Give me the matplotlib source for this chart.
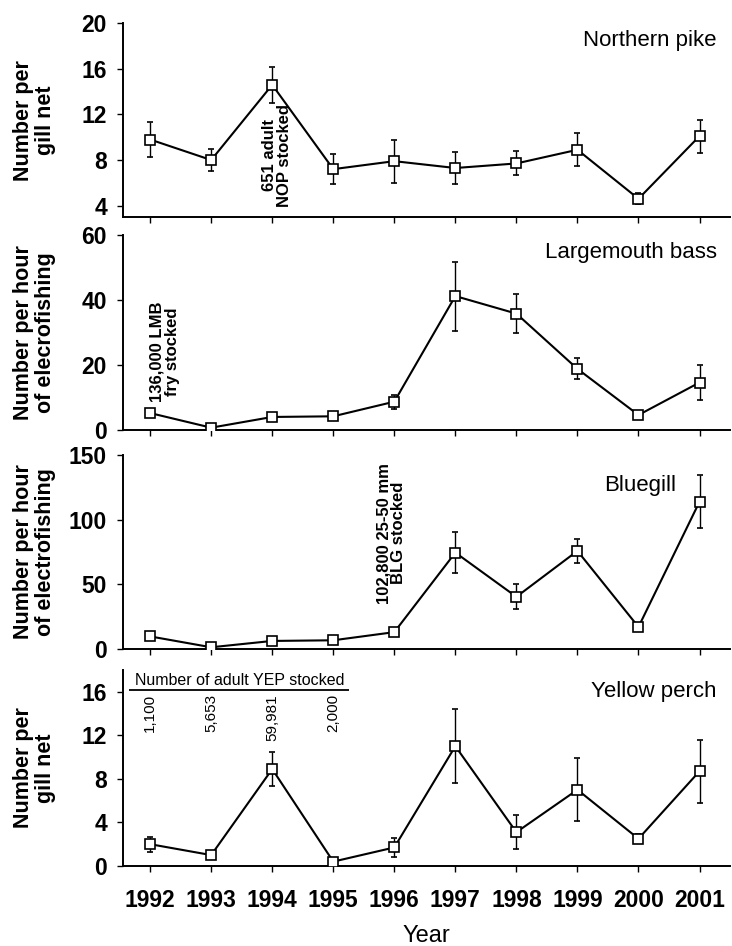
import matplotlib
matplotlib.use('AGG')
import matplotlib.pyplot as plt

plt.rcParams['font.family'] = ['Liberation Sans', 'DejaVu Sans']

years = [1992, 1993, 1994, 1995, 1996, 1997, 1998, 1999, 2000, 2001]

# catch rates and error bars
nop = [9.8, 8.0, 14.6, 7.2, 7.9, 7.3, 7.7, 8.9, 4.6, 10.1]
nop_err = [1.5, 0.95, 1.6, 1.3, 1.9, 1.4, 1.05, 1.45, 0.5, 1.45]

lmb = [5.2, 0.7, 4.0, 4.2, 8.7, 41.2, 35.8, 18.8, 4.6, 14.6]
lmb_err = [0.6, 0.5, 1.0, 0.8, 2.2, 10.6, 6.1, 3.2, 0.6, 5.5]

blg = [9.7, 1.3, 6.2, 6.7, 13.0, 74.5, 40.3, 75.8, 17.0, 113.8]
blg_err = [2.0, 1.0, 2.0, 2.0, 2.5, 15.7, 9.7, 9.0, 2.0, 20.6]

yep = [2.0, 1.0, 8.9, 0.4, 1.7, 11.0, 3.1, 7.0, 2.5, 8.7]
yep_err = [0.7, 0.2, 1.6, 0.15, 0.9, 3.4, 1.55, 2.9, 0.4, 2.9]

yep_stocked_years = [1992, 1993, 1994, 1995]
yep_stocked = ['1,100', '5,653', '59,981', '2,000']

fig = plt.figure(figsize=(7.32, 9.46), dpi=100)

left, width = 0.1676, 0.8297
panels = [
    # bottom, height, data, err, ylim, yticks, ylabel, title, title y, title x
    (0.7706, 0.2048, nop, nop_err, (3, 20), [4, 8, 12, 16, 20],
     'Number per\ngill net', 'Northern pike', 0.91, 0.978),
    (0.5455, 0.2061, lmb, lmb_err, (0, 60), [0, 20, 40, 60],
     'Number per hour\nof elecrofishing', 'Largemouth bass', 0.91, 0.978),
    (0.3140, 0.2051, blg, blg_err, (0, 150), [0, 50, 100, 150],
     'Number per hour\nof electrofishing', 'Bluegill', 0.845, 0.911),
    (0.0846, 0.2072, yep, yep_err, (0, 18), [0, 4, 8, 12, 16],
     'Number per\ngill net', 'Yellow perch', 0.888, 0.978),
]

axes = []
for bottom, height, vals, errs, ylim, yticks, ylabel, title, ty, tx in panels:
    ax = fig.add_axes([left, bottom, width, height])
    ax.errorbar(years, vals, yerr=errs, color='black', lw=1.5,
                elinewidth=1.0, capsize=2.5, capthick=1.0,
                marker='s', markersize=7.5, markerfacecolor='white',
                markeredgecolor='black', markeredgewidth=1.2, zorder=3)
    ax.set_xlim(1991.55, 2001.5)
    ax.set_ylim(*ylim)
    ax.set_yticks(yticks)
    ax.set_xticks(years)
    ax.spines['top'].set_visible(False)
    ax.spines['right'].set_visible(False)
    ax.spines['left'].set_linewidth(1.4)
    ax.spines['bottom'].set_linewidth(1.4)
    ax.tick_params(direction='out', length=4.3, width=1.0)
    ax.tick_params(axis='y', labelsize=16.5, pad=7)
    for lab in ax.get_yticklabels():
        lab.set_fontweight('bold')
    ax.set_ylabel(ylabel, fontsize=15.5, fontweight='bold', linespacing=1.05)
    ax.yaxis.set_label_coords(-0.11, 0.5)
    ax.text(tx, ty, title, transform=ax.transAxes, ha='right', va='center',
            fontsize=16)
    axes.append(ax)

for ax in axes[:-1]:
    ax.set_xticklabels([])

ax4 = axes[-1]
ax4.tick_params(axis='x', labelsize=16.5, pad=12)
for lab in ax4.get_xticklabels():
    lab.set_fontweight('bold')
ax4.set_xlabel('Year', fontsize=17)
ax4.xaxis.set_label_coords(0.5, -0.30)

# stocking notes
axes[0].text(1994.07, 3.9, '651 adult\nNOP stocked', rotation=90,
             ha='center', va='bottom', multialignment='center',
             fontsize=12, fontweight='bold', linespacing=1.0)
axes[1].text(1992.24, 8.6, '136,000 LMB\nfry stocked', rotation=90,
             ha='center', va='bottom', multialignment='center',
             fontsize=12, fontweight='bold', linespacing=1.0)
axes[2].text(1995.95, 35, '102,800 25-50 mm\nBLG stocked', rotation=90,
             ha='center', va='bottom', multialignment='center',
             fontsize=12, fontweight='bold', linespacing=1.0)

note_x0, note_x1, note_y = 1991.66, 1995.26, 16.15
ax4.text((note_x0 + note_x1) / 2, note_y + 0.2, 'Number of adult YEP stocked',
         ha='center', va='bottom', fontsize=11.5)
ax4.hlines(note_y, note_x0, note_x1, color='black', lw=1.3)
for x, s in zip(yep_stocked_years, yep_stocked):
    ax4.text(x, 15.8, s, rotation=90, ha='center', va='top', fontsize=11)

plt.savefig('out.png', dpi=100)
plt.close('all')
